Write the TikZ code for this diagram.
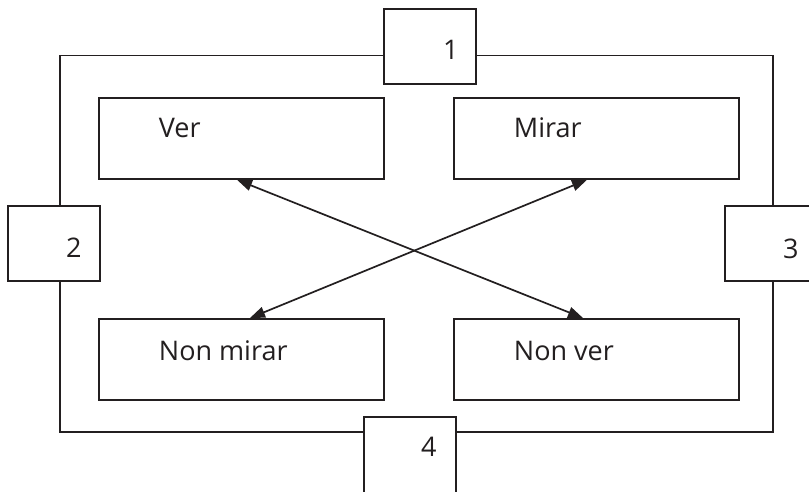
\documentclass[tikz,border=0pt]{standalone}
\usepackage{fontspec}
\setmainfont{Open Sans}
\usetikzlibrary{arrows.meta}
\definecolor{ink}{HTML}{231F20}
\begin{document}
\begin{tikzpicture}[x=1pt,y=-1pt,
  line width=1.8pt, draw=ink,
  bigbox/.style={draw=ink, fill=white, rectangle, minimum width=285pt, minimum height=81pt, inner sep=0pt, anchor=north west},
  tagbox/.style={draw=ink, fill=white, rectangle, minimum width=92pt, minimum height=75pt, inner sep=0pt, anchor=north west},
  lbl/.style={font=\fontsize{27}{31}\selectfont, text=ink, inner sep=0pt, anchor=base west},
  num/.style={font=\fontsize{27}{31}\selectfont, text=ink, inner sep=0pt},
  cross/.style={draw=ink, line width=1.7pt, {Triangle[length=15pt,width=11pt]}-{Triangle[length=15pt,width=11pt]}}
]
\clip (0,0) rectangle (809,491);
\fill[white] (0,0) rectangle (809,491);

% outer frame
\draw[ink] (60,55.5) rectangle (773,431.7);

% four boxes
\node[bigbox] (ver) at (98,97) {};
\node[bigbox] (mirar) at (453,97) {};
\node[bigbox] (nonmirar) at (98,318) {};
\node[bigbox] (nonver) at (453,318) {};

\node[lbl] at ([xshift=60pt,yshift=-40pt]ver.north west) {Ver};
\node[lbl] at ([xshift=60pt,yshift=-40pt]mirar.north west) {Mirar};
\node[lbl] at ([xshift=60pt,yshift=-42pt]nonmirar.north west) {Non mirar};
\node[lbl] at ([xshift=60pt,yshift=-42pt]nonver.north west) {Non ver};

% numbered tabs on the frame
\node[tagbox] (t1) at (383,8) {};
\node[tagbox] (t2) at (7,205) {};
\node[tagbox] (t3) at (724,205) {};
\node[tagbox, minimum height=90pt] (t4) at (363,416) {};

\node[num] at ([xshift=21pt,yshift=-3pt]t1.center) {1};
\node[num] at ([xshift=20pt,yshift=-4pt]t2.center) {2};
\node[num] at ([xshift=20pt,yshift=-5pt]t3.center) {3};
\node[num] at ([xshift=19pt,yshift=-31pt]t4.north) {4};

% crossing double arrows
\draw[cross] ([xshift=139pt]ver.south west) -- ([xshift=130pt]nonver.north west);
\draw[cross] ([xshift=134pt]mirar.south west) -- ([xshift=152pt]nonmirar.north west);
\end{tikzpicture}
\end{document}
